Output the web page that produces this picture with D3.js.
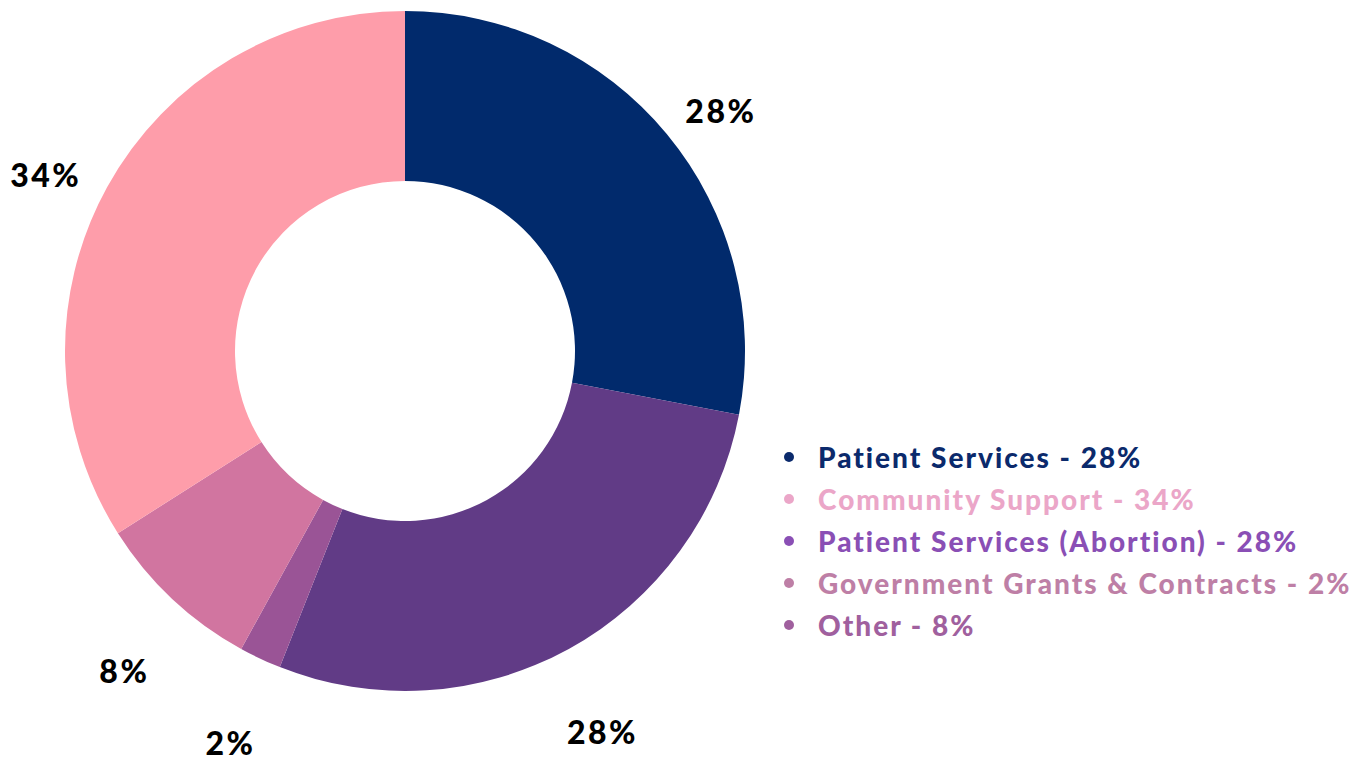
<!DOCTYPE html>
<html>
<head>
<meta charset="utf-8">
<script src="https://cdn.jsdelivr.net/npm/d3@7"></script>
<style>
  body { margin: 0; background: #fff; }
  svg { display: block; }
</style>
</head>
<body>
<div id="chart"></div>
<script>
// data
const categories = ["Patient Services", "Patient Services (Abortion)", "Government Grants & Contracts", "Other", "Community Support"];
const values = [28, 28, 2, 8, 34];
const sliceColors = ["#012a6c", "#613b86", "#9a5496", "#d175a0", "#fe9daa"];

const legendItems = ["Patient Services", "Community Support", "Patient Services (Abortion)", "Government Grants & Contracts", "Other"];
const legendValues = [28, 34, 28, 2, 8];
const legendColors = ["#0b2a6c", "#eba6c8", "#8a4fb5", "#be7fa6", "#a0609e"];

const width = 1360, height = 757;
const cx = 405, cy = 351;
const outerR = 340, innerR = 170;

const svg = d3.select("#chart")
  .append("svg")
    .attr("width", width)
    .attr("height", height);

const g = svg.append("g")
  .attr("transform", `translate(${cx},${cy})`);

const pie = d3.pie().sort(null).value(d => d.v);
const arcs = pie(values.map((v, i) => ({v: v, name: categories[i], color: sliceColors[i]})));

const arc = d3.arc().innerRadius(innerR).outerRadius(outerR);
const labelArc = d3.arc().innerRadius(410).outerRadius(410);

g.selectAll("path.slice")
  .data(arcs)
  .join("path")
    .attr("class", "slice")
    .attr("d", arc)
    .attr("fill", d => d.data.color);

// outside percentage labels
g.selectAll("text.pct")
  .data(arcs)
  .join("text")
    .attr("class", "pct")
    .attr("x", d => labelArc.centroid(d)[0])
    .attr("y", d => labelArc.centroid(d)[1] + 21)
    .attr("text-anchor", "middle")
    .attr("dominant-baseline", "central")
    .style("font-family", "Lato, sans-serif")
    .style("font-weight", 900)
    .style("font-size", "32px")
    .style("letter-spacing", "2.5px")
    .style("fill", "#000")
    .text(d => d.data.v + "%");

// legend
const legend = svg.append("g")
  .attr("transform", "translate(789,457)");

const rows = legend.selectAll("g.row")
  .data(legendItems)
  .join("g")
    .attr("class", "row")
    .attr("transform", (d, i) => `translate(0,${i * 42})`);

rows.append("circle")
  .attr("r", 5)
  .attr("fill", (d, i) => legendColors[i]);

rows.append("text")
  .attr("x", 29)
  .attr("dominant-baseline", "central")
  .style("font-family", "Lato, sans-serif")
  .style("font-weight", 900)
  .style("font-size", "28px")
  .style("letter-spacing", "2px")
  .style("fill", (d, i) => legendColors[i])
  .text((d, i) => d + " - " + legendValues[i] + "%");
</script>
</body>
</html>
